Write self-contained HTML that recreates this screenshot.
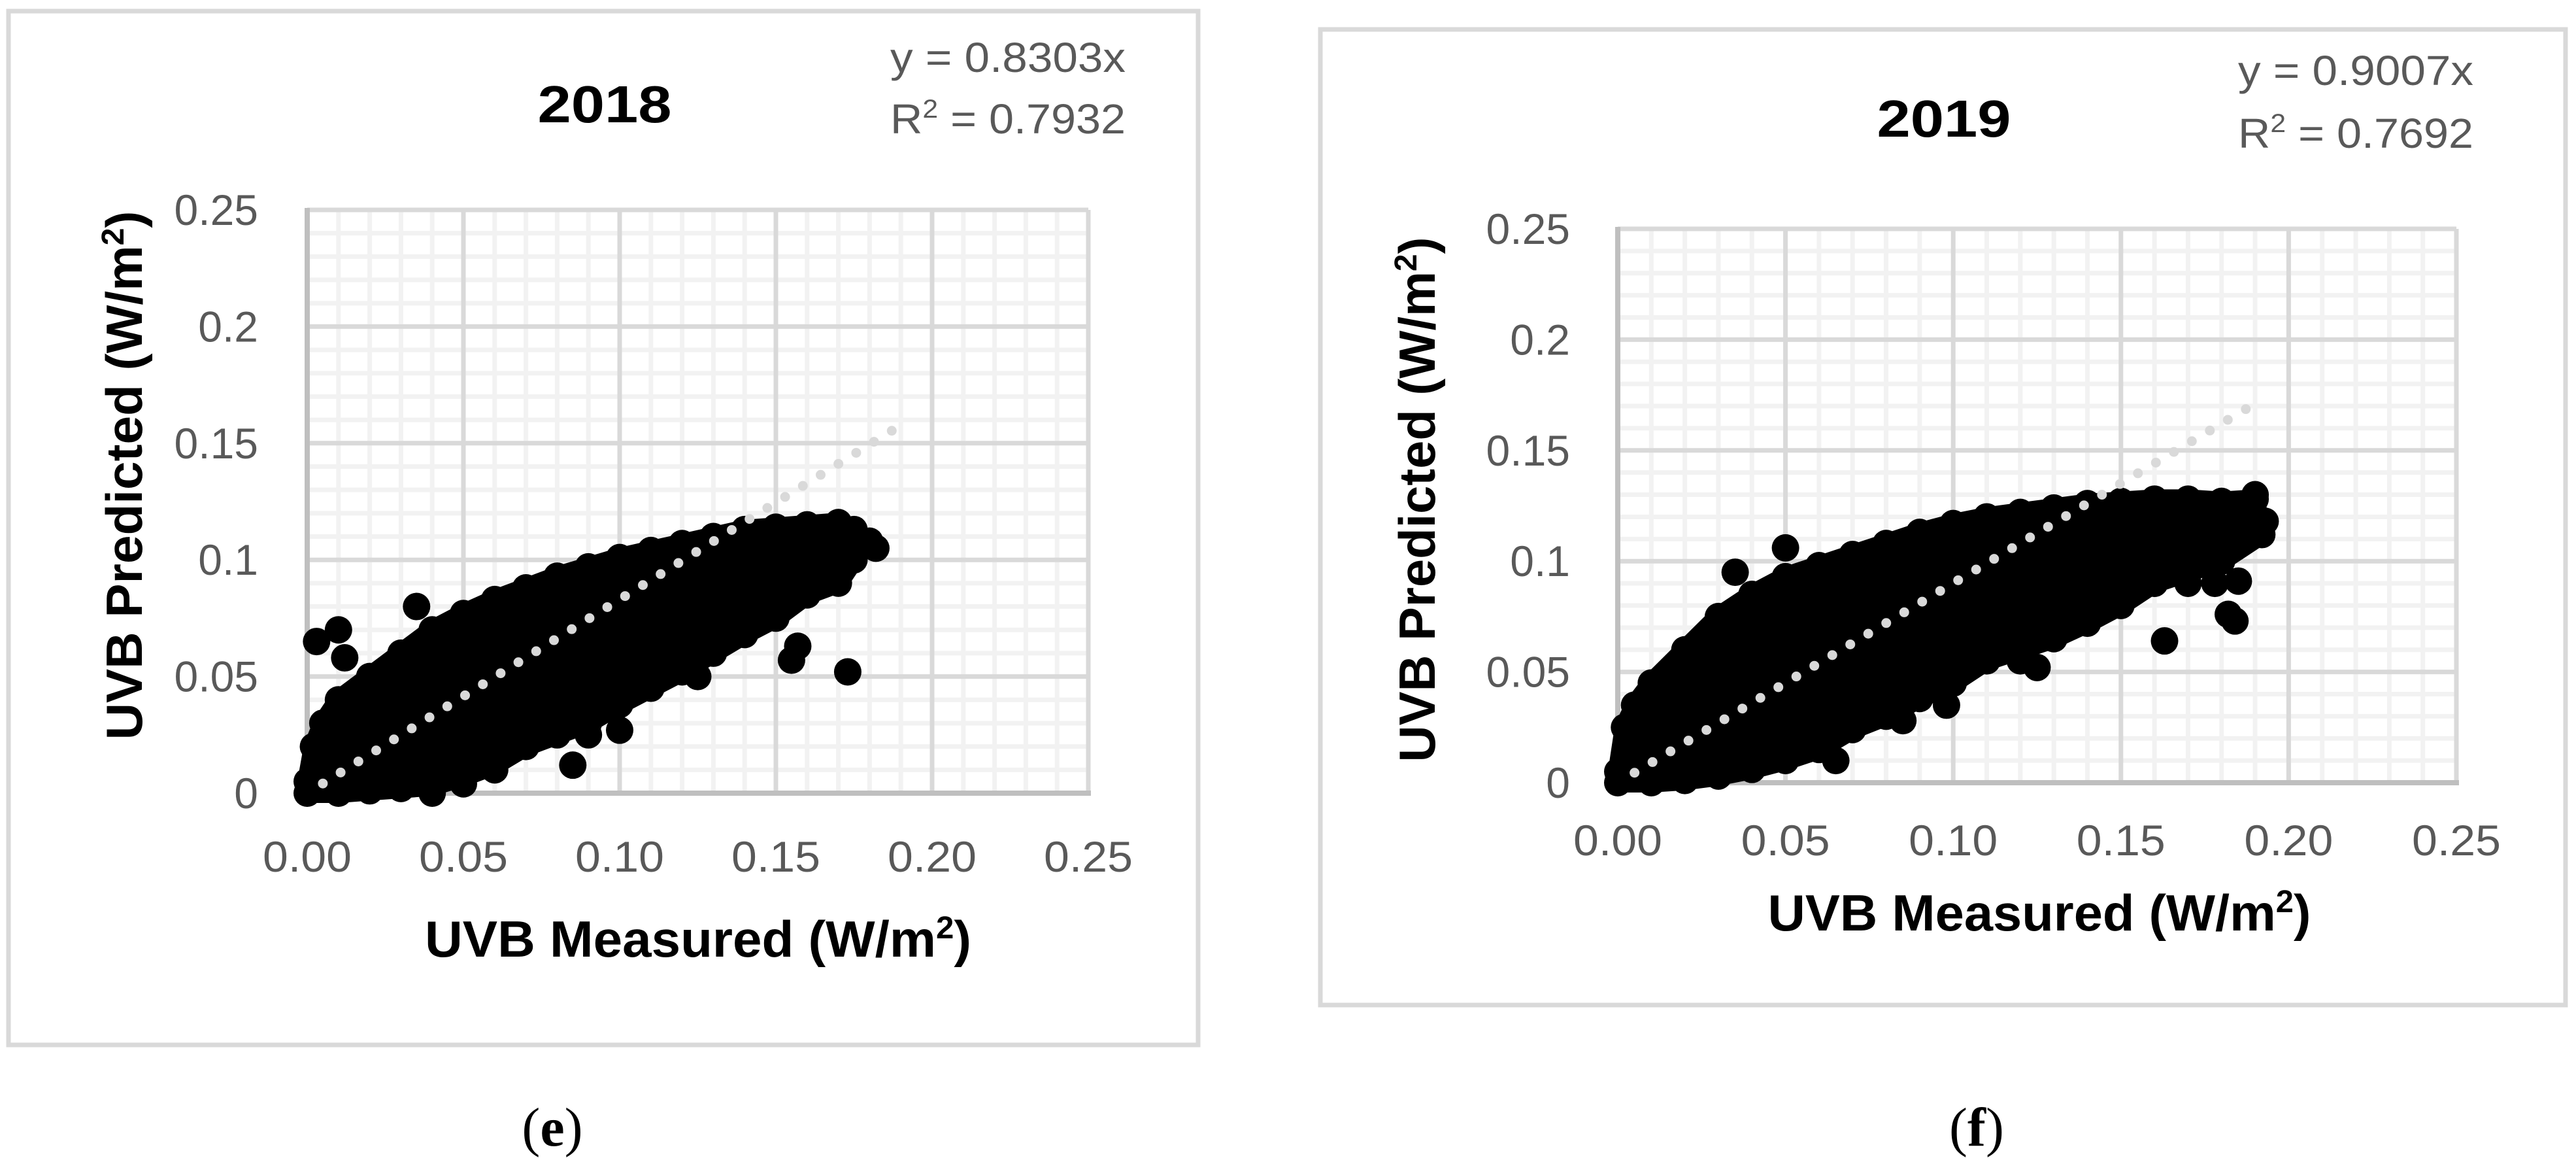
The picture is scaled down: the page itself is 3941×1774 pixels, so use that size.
<!DOCTYPE html>
<html><head><meta charset="utf-8">
<style>
html,body{margin:0;padding:0;background:#fff;}
svg{display:block;}
text{font-family:"Liberation Sans",sans-serif;}
</style></head>
<body>
<svg id="fig" width="3941" height="1774" viewBox="0 0 3941 1774" xmlns="http://www.w3.org/2000/svg">
<rect x="0" y="0" width="3941" height="1774" fill="#fff"/>
</svg>
<script>
// ---- data: panel (e) 2018 ----
const xTicks = [0, 0.05, 0.10, 0.15, 0.20, 0.25];
const xTickLabels = ["0.00","0.05","0.10","0.15","0.20","0.25"];
const yTicks = [0, 0.05, 0.10, 0.15, 0.20, 0.25];
const yTickLabels = ["0","0.05","0.1","0.15","0.2","0.25"];
const slope2018 = 0.8303;
const trendEnd2018 = 0.188;
const upperX2018 = [0,0.002,0.005,0.01,0.02,0.03,0.04,0.05,0.06,0.07,0.08,0.09,0.10,0.11,0.12,0.13,0.14,0.15,0.16,0.17,0.175];
const upperY2018 = [0.005,0.02,0.03,0.04,0.05,0.06,0.07,0.077,0.083,0.088,0.093,0.097,0.101,0.104,0.107,0.110,0.113,0.114,0.115,0.116,0.113];
const lowerX2018 = [0.175,0.17,0.16,0.15,0.14,0.13,0.12,0.11,0.10,0.09,0.08,0.07,0.06,0.05,0.04,0.03,0.02,0.01,0];
const lowerY2018 = [0.10,0.09,0.085,0.075,0.068,0.06,0.052,0.045,0.038,0.03,0.025,0.02,0.012,0.007,0.003,0.002,0.001,0,0];
const outX2018 = [0.003,0.01,0.012,0.035,0.05,0.06,0.085,0.10,0.125,0.155,0.157,0.173,0.182,0.165,0.15,0.18,0.09,0.04];
const outY2018 = [0.065,0.07,0.058,0.08,0.004,0.01,0.012,0.027,0.05,0.057,0.063,0.052,0.105,0.095,0.085,0.108,0.025,0.0];
// ---- data: panel (f) 2019 ----
const slope2019 = 0.9007;
const trendEnd2019 = 0.19;
const upperX2019 = [0,0.002,0.005,0.01,0.02,0.03,0.04,0.05,0.06,0.07,0.08,0.09,0.10,0.11,0.12,0.13,0.14,0.15,0.16,0.17,0.18,0.19];
const upperY2019 = [0.005,0.025,0.035,0.045,0.06,0.075,0.085,0.093,0.098,0.103,0.108,0.113,0.117,0.12,0.122,0.124,0.126,0.127,0.128,0.128,0.127,0.128];
const lowerX2019 = [0.192,0.18,0.17,0.16,0.15,0.14,0.13,0.12,0.11,0.10,0.09,0.08,0.07,0.06,0.05,0.04,0.03,0.02,0.01,0];
const lowerY2019 = [0.112,0.10,0.095,0.09,0.08,0.072,0.065,0.06,0.055,0.045,0.038,0.03,0.024,0.015,0.01,0.006,0.003,0.001,0,0];
const outX2019 = [0.05,0.035,0.065,0.085,0.098,0.10,0.12,0.125,0.163,0.17,0.182,0.184,0.185,0.178,0.19,0.193,0.045,0.08];
const outY2019 = [0.106,0.095,0.01,0.028,0.035,0.045,0.055,0.052,0.064,0.09,0.076,0.073,0.091,0.09,0.13,0.118,0.012,0.042];

const NS = "http://www.w3.org/2000/svg";
const svg = document.getElementById('fig');
function mk(tag, attrs, parent){
  const e = document.createElementNS(NS, tag);
  for (const k in attrs) e.setAttribute(k, attrs[k]);
  (parent||svg).appendChild(e);
  return e;
}

function panel(cfg){
  const g = mk('g', {});
  
  
  const L=cfg.px, T=cfg.py, W=cfg.pw, H=cfg.ph;
  const sx = v => L + v/0.25*W;
  const sy = v => T + H - v/0.25*H;
  const fr = mk('rect', {x:cfg.bx, y:cfg.by, width:cfg.bw, height:cfg.bh, fill:'#fff', stroke:'#d9d9d9', 'stroke-width':7}, g);
  
  
  for (let i=1;i<25;i++){
    if (i%5===0) continue;
    const v = i*0.01;
    const a = mk('line', {x1:sx(v), x2:sx(v), y1:T, y2:T+H, stroke:'#f2f2f2', 'stroke-width':7}, g);
    
    
    const b = mk('line', {x1:L, x2:L+W, y1:sy(v), y2:sy(v), stroke:'#f2f2f2', 'stroke-width':7}, g);
    
    
  }
  for (let i=1;i<xTicks.length;i++){
    const a = mk('line', {x1:sx(xTicks[i]), x2:sx(xTicks[i]), y1:T, y2:T+H, stroke:'#d9d9d9', 'stroke-width':7}, g);
    
    
  }
  for (let i=1;i<yTicks.length;i++){
    const b = mk('line', {x1:L, x2:L+W, y1:sy(yTicks[i]), y2:sy(yTicks[i]), stroke:'#d9d9d9', 'stroke-width':7}, g);
    
    
  }
  const ax = mk('line', {x1:L-4, x2:L+W+4, y1:T+H, y2:T+H, stroke:'#bfbfbf', 'stroke-width':8}, g);
  
  
  const ay = mk('line', {x1:L, x2:L, y1:T-3, y2:T+H, stroke:'#bfbfbf', 'stroke-width':8}, g);
  
  
  const pts = [];
  cfg.ux.forEach((x,i)=>pts.push(sx(x)+','+sy(cfg.uy[i])));
  cfg.lx.forEach((x,i)=>pts.push(sx(x)+','+sy(cfg.ly[i])));
  const blob = mk('polygon', {points:pts.join(' '), fill:'#000', stroke:'#000', 'stroke-width':30, 'stroke-linejoin':'round'}, g);
  
  
  const R = 21;
  cfg.ux.forEach((x,i)=>{
    const c = mk('circle', {cx:sx(x), cy:sy(cfg.uy[i]), r:R, fill:'#000'}, g);
    
    
  });
  cfg.lx.forEach((x,i)=>{
    const c = mk('circle', {cx:sx(x), cy:sy(cfg.ly[i]), r:R, fill:'#000'}, g);
    
    
  });
  cfg.ox.forEach((x,i)=>{
    const c = mk('circle', {cx:sx(x), cy:sy(cfg.oy[i]), r:R, fill:'#000'}, g);
    
    
  });
  const tl = mk('line', {x1:sx(0.005), y1:sy(cfg.slope*0.005), x2:sx(cfg.tend), y2:sy(cfg.slope*cfg.tend), stroke:'#d9d9d9', 'stroke-width':15, 'stroke-linecap':'round', 'stroke-dasharray':'0 32'}, g);
  
  
  xTicks.forEach((v,i)=>{
    const t = mk('text', {x:sx(v), y:cfg.xlabY, 'text-anchor':'middle', 'font-size':66, fill:'#595959', textLength:136, lengthAdjust:'spacingAndGlyphs'}, g);
    t.textContent = xTickLabels[i];
    
    
  });
  yTicks.forEach((v,i)=>{
    const t = mk('text', {x:cfg.ylabR, y:sy(v)+23, 'text-anchor':'end', 'font-size':66, fill:'#595959'}, g);
    t.textContent = yTickLabels[i];
    
    
  });
  const ti = mk('text', {x:cfg.titleX, y:cfg.titleY, 'text-anchor':'middle', 'font-size':80, 'font-weight':'bold', fill:'#000', textLength:205, lengthAdjust:'spacingAndGlyphs'}, g);
  ti.textContent = cfg.title;
  
  
  const e1 = mk('text', {x:cfg.eqX, y:cfg.eqY1, 'font-size':64, fill:'#595959', textLength:360, lengthAdjust:'spacingAndGlyphs'}, g);
  e1.textContent = cfg.eq;
  
  
  const e2 = mk('text', {x:cfg.eqX, y:cfg.eqY2, 'font-size':64, fill:'#595959', textLength:360, lengthAdjust:'spacingAndGlyphs'}, g);
  e2.innerHTML = 'R<tspan dy="-24" font-size="40">2</tspan><tspan dy="24"> = '+cfg.r2+'</tspan>';
  
  
  const xt = mk('text', {x:cfg.xtX, y:cfg.xtY, 'text-anchor':'middle', 'font-size':78, 'font-weight':'bold', fill:'#000', textLength:cfg.xtLen, lengthAdjust:'spacingAndGlyphs'}, g);
  xt.innerHTML = 'UVB Measured (W/m<tspan dy="-28" font-size="48">2</tspan><tspan dy="28">)</tspan>';
  
  
  const yt = mk('text', {x:0, y:0, 'text-anchor':'middle', 'font-size':78, 'font-weight':'bold', fill:'#000', textLength:cfg.ytLen, lengthAdjust:'spacingAndGlyphs', transform:'translate('+(cfg.ytX+28)+','+cfg.ytY+') rotate(-90)'}, g);
  yt.innerHTML = 'UVB Predicted (W/m<tspan dy="-28" font-size="48">2</tspan><tspan dy="28">)</tspan>';
  
  
  const cp = mk('text', {x:cfg.capX, y:1752, 'text-anchor':'middle', 'font-size':84, fill:'#000', style:'font-family:"Liberation Serif",serif'}, g);
  cp.innerHTML = '(<tspan font-weight="bold">'+cfg.cap+'</tspan>)';
  
  
}

panel({name:'panel-e-2018', bx:13,by:17,bw:1820,bh:1581, px:470,py:321,pw:1195,ph:892,
  ux:upperX2018, uy:upperY2018, lx:lowerX2018, ly:lowerY2018, ox:outX2018, oy:outY2018,
  slope:slope2018, tend:trendEnd2018, xlabY:1333, ylabR:395,
  title:'2018', titleX:925, titleY:187, eq:'y = 0.8303x', r2:'0.7932', eqX:1362, eqY1:110, eqY2:204,
  xtX:1068, xtY:1463, xtLen:836, ytX:189, ytY:727, ytLen:809, capX:845, cap:'e'});
panel({name:'panel-f-2019', bx:2020,by:45,bw:1905,bh:1492, px:2475,py:350,pw:1283,ph:847,
  ux:upperX2019, uy:upperY2019, lx:lowerX2019, ly:lowerY2019, ox:outX2019, oy:outY2019,
  slope:slope2019, tend:trendEnd2019, xlabY:1308, ylabR:2402,
  title:'2019', titleX:2974, titleY:209, eq:'y = 0.9007x', r2:'0.7692', eqX:3424, eqY1:130, eqY2:226,
  xtX:3120, xtY:1423, xtLen:831, ytX:2167, ytY:764, ytLen:803, capX:3024, cap:'f'});
</script>
</body></html>
